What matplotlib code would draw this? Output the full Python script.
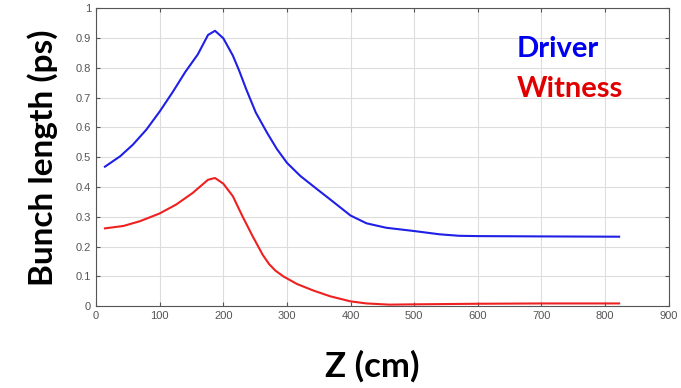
import numpy as np
import matplotlib.pyplot as plt

# Z positions (cm) and bunch lengths (ps)
z_driver = [14, 38, 58, 79, 100, 121, 140, 160, 176, 187, 200, 215, 225, 236, 251, 269, 284, 300,
            321, 347, 368, 400, 425, 456, 500, 540, 571, 600, 700, 822]
driver = [0.468, 0.503, 0.542, 0.592, 0.653, 0.72, 0.785, 0.845, 0.91, 0.924, 0.899, 0.841, 0.79, 0.728, 0.65, 0.581, 0.528, 0.481,
          0.437, 0.393, 0.358, 0.304, 0.278, 0.263, 0.252, 0.241, 0.236, 0.235, 0.234, 0.233]

z_witness = [14, 43, 69, 100, 126, 152, 176, 187, 200, 215, 230, 246, 262, 272, 282, 295,
             316, 342, 368, 400, 425, 461, 500, 600, 700, 822]
witness = [0.261, 0.269, 0.285, 0.311, 0.341, 0.38, 0.424, 0.43, 0.411, 0.369, 0.302, 0.235, 0.172, 0.141, 0.119, 0.099,
           0.074, 0.052, 0.033, 0.016, 0.009, 0.005, 0.006, 0.008, 0.009, 0.009]

xticks = np.arange(0, 901, 100)
yticks = np.arange(0, 1.01, 0.1)

fig = plt.figure(figsize=(6.81, 3.88), dpi=100)
ax = fig.add_axes([0.141, 0.211, 0.841, 0.768])

ax.plot(z_driver, driver, color='#1f1fe6', lw=1.5)
ax.plot(z_witness, witness, color='#ee2020', lw=1.5)

ax.set_xlim(0, 900)
ax.set_ylim(0, 1)
ax.set_xticks(xticks)
ax.set_yticks(yticks)
ax.set_yticklabels(['0'] + ['%.1f' % v for v in yticks[1:-1]] + ['1'])
ax.grid(True, color='#dddddd', lw=0.8)
ax.tick_params(direction='in', top=True, right=True, labelsize=8, colors='#555555', length=3)
for lab in ax.get_xticklabels() + ax.get_yticklabels():
    lab.set_family('Liberation Sans')
for s in ax.spines.values():
    s.set_color('#555555')

ax.text(661, 0.836, 'Driver', color='#0000ee', fontsize=21, fontweight='bold',
        family='Lato', va='baseline', ha='left')
ax.text(661, 0.701, 'Witness', color='#e00000', fontsize=21, fontweight='bold',
        family='Lato', va='baseline', ha='left')

fig.text(0.062, 0.594, 'Bunch length (ps)', rotation=90, fontsize=24, fontweight='bold',
         family='Lato', ha='center', va='center')
fig.text(0.547, 0.057, 'Z (cm)', fontsize=25, fontweight='bold', family='Lato',
         ha='center', va='center')

fig.savefig('out.png', dpi=100)
